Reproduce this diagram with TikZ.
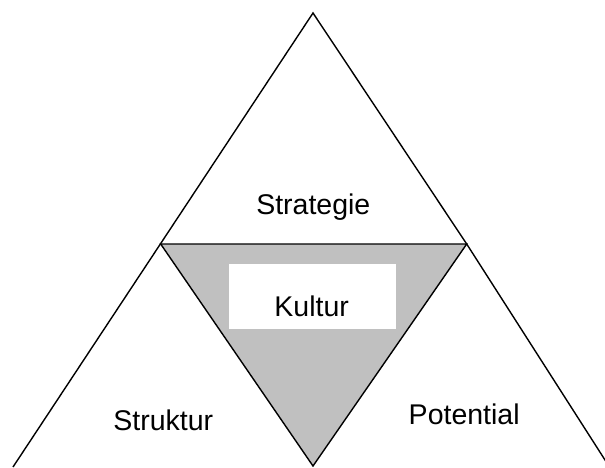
\documentclass[tikz,border=0pt]{standalone}
\usepackage{fontspec}
\setmainfont{Liberation Sans}
\definecolor{kgray}{RGB}{192,192,192}
\begin{document}
\begin{tikzpicture}[x=1pt,y=-1pt,
  edge/.style={line width=1.4pt,line join=miter},
  lbl/.style={font=\fontsize{28.5}{30}\selectfont,anchor=base,inner sep=0pt}]
\useasboundingbox (0,0) rectangle (605,467);
\coordinate (apex) at (313,13);
\coordinate (ml) at (160.7,244);
\coordinate (mr) at (466.7,244);
\coordinate (bl) at (13,467);
\coordinate (br) at (609.5,467);
\coordinate (bm) at (313,466);
\fill[kgray] (ml) -- (mr) -- (bm) -- cycle;
\draw[edge] (mr) -- (ml) -- (bm) -- cycle;
\draw[edge] (bl) -- (apex) -- (mr) -- (br);
\node[fill=white,minimum width=167,minimum height=65,inner sep=0pt] (kbox) at (312.5,296.5) {};
\node[lbl] (strat) at (313.3,214) {Strategie};
\node[lbl] (kultur) at (311.7,316.7) {Kultur};
\node[lbl] (struk) at (163.3,430) {Struktur};
\node[lbl] (pot) at (464.2,424.3) {Potential};
\end{tikzpicture}
\end{document}
